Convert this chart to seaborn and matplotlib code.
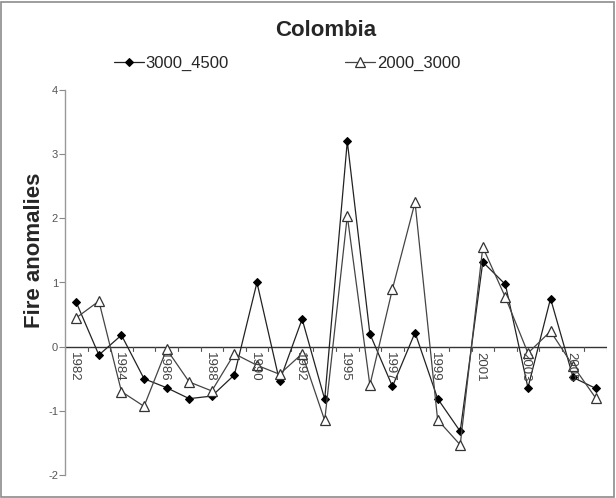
import matplotlib
matplotlib.use("Agg")
import matplotlib.pyplot as plt
from matplotlib.patches import Rectangle
import seaborn as sns
import numpy as np
import pandas as pd

# category years on the x axis (only every other one is labelled)
years = ['1982', '1983', '1984', '1985', '1986', '1987', '1988', '1989',
         '1990', '1991', '1992', '1994', '1995', '1996', '1997', '1998',
         '1999', '2000', '2001', '2002', '2003', '2004', '2005', '2006']
tick_labels = ['1982', '', '1984', '', '1986', '', '1988', '', '1990', '',
               '1992', '', '1995', '', '1997', '', '1999', '', '2001', '',
               '2003', '', '2005', '']

s_3000_4500 = [0.69, -0.13, 0.18, -0.50, -0.64, -0.81, -0.77, -0.44,
               1.00, -0.54, 0.43, -0.82, 3.20, 0.20, -0.62, 0.22,
               -0.81, -1.32, 1.32, 0.97, -0.64, 0.75, -0.48, -0.65]
s_2000_3000 = [0.45, 0.71, -0.70, -0.93, -0.04, -0.55, -0.69, -0.11,
               -0.29, -0.43, -0.11, -1.15, 2.04, -0.60, 0.90, 2.25,
               -1.14, -1.53, 1.55, 0.77, -0.10, 0.24, -0.30, -0.80]

df = pd.DataFrame({
    'pos': np.arange(len(years)),
    'year': years,
    '3000_4500': s_3000_4500,
    '2000_3000': s_2000_3000,
})

sns.set_style("white")
plt.rcParams['font.family'] = ['Liberation Sans', 'DejaVu Sans']

fig = plt.figure(figsize=(6.16, 4.98), dpi=100)
ax = fig.add_axes([65 / 616, 1 - 475 / 498, 542 / 616, 385 / 498])

# outer chart frame
fig.patches.append(Rectangle((1 / 616, 1 / 498), 613 / 616, 495 / 498,
                             transform=fig.transFigure, fill=False,
                             edgecolor='#8c8c8c', linewidth=1.2))

sns.lineplot(data=df, x='pos', y='3000_4500', ax=ax, color='#222222',
             linewidth=0.9, marker='D', markersize=4.5,
             markerfacecolor='black', markeredgecolor='black',
             label='3000_4500')
sns.lineplot(data=df, x='pos', y='2000_3000', ax=ax, color='#444444',
             linewidth=0.9, marker='^', markersize=7.5,
             markerfacecolor='white', markeredgecolor='#333333',
             markeredgewidth=0.9, label='2000_3000')

ax.set_xlim(-0.5, len(years) - 0.5)
ax.set_ylim(-2, 4)

# zero line acting as category axis
ax.axhline(0, color='#333333', linewidth=1.0, zorder=1)
for b in np.arange(len(years) + 1) - 0.5:
    ax.plot([b, b], [0, -0.06], color='#555555', linewidth=0.8, zorder=1)
for i, lab in enumerate(tick_labels):
    if lab:
        ax.text(i - 0.1, -0.08, lab, rotation=-90, ha='center', va='top',
                fontsize=9.5, color='#444444')

ax.set_xticks([])
ax.set_xlabel('')
ax.set_yticks(np.arange(-2, 5, 1))
ax.set_yticklabels([str(v) for v in range(-2, 5)], fontsize=8,
                   color='#555555')
ax.tick_params(axis='y', direction='out', length=4, width=0.8,
               color='#888888', left=True, pad=1)
for side in ['top', 'right', 'bottom']:
    ax.spines[side].set_visible(False)
ax.spines['left'].set_color('#999999')
ax.spines['left'].set_linewidth(1.0)

ax.set_ylabel('Fire anomalies', fontsize=16, fontweight='bold')
ax.yaxis.set_label_coords(-20 / 542, (475 - 250) / 385)
fig.text(326 / 616, 1 - 31 / 498, 'Colombia', ha='center', va='center',
         fontsize=16, fontweight='bold')

ax.legend(loc='center', bbox_to_anchor=(0.41, 1.07), ncol=2, frameon=False,
          fontsize=12, handlelength=1.8, handletextpad=0.1,
          columnspacing=7.0)

fig.savefig('out.png', dpi=100)
